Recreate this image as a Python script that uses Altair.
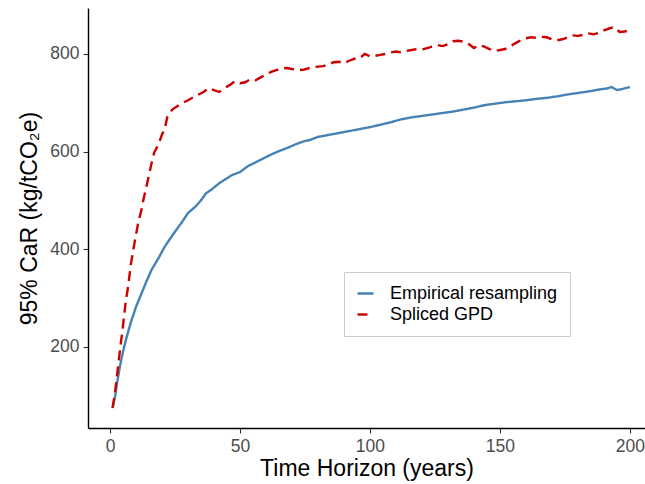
import altair as alt
import pandas as pd

emp_x = [1, 2, 3, 4, 5, 6, 8, 10, 12, 14, 16, 19, 21, 25, 28, 30, 33, 35, 37, 39, 42, 44, 47, 50, 53, 56, 59, 62,
         65, 68, 71, 74, 77, 80, 84, 88, 92, 96, 100, 104, 108, 112, 116, 120, 124, 128, 132, 136, 140, 144, 148,
         152, 156, 160, 164, 168, 172, 176, 180, 184, 188, 191, 193, 195, 197, 200]
emp_y = [75, 100, 135, 165, 190, 212, 250, 282, 308, 334, 358, 385, 405, 436, 458, 474, 488, 500, 515, 522, 535, 542,
         552, 558, 570, 578, 586, 594, 601, 607, 614, 620, 624, 630, 634, 638, 642, 646, 650, 655, 660, 666, 670, 673,
         676, 679, 682, 686, 690, 695, 698, 701, 703, 705, 708, 710, 713, 717, 720, 723, 727, 729, 732, 726, 728, 732]

gpd_x = [1, 2, 3, 4, 5, 6, 7, 8, 9, 10, 11, 12, 13, 14, 15, 16, 17, 18, 19, 20, 21, 22, 23, 24, 25, 27, 30, 33, 36,
         38, 40, 42, 44, 46, 48, 50, 52, 54, 56, 58, 60, 62, 64, 66, 68, 70, 72, 74, 76, 78, 80, 82, 84, 86, 88, 90,
         92, 94, 96, 98, 100, 102, 104, 106, 108, 110, 112, 114, 116, 118, 120, 122, 124, 126, 128, 130, 132, 134,
         136, 138, 140, 142, 144, 146, 148, 150, 152, 154, 156, 158, 160, 162, 164, 166, 168, 170, 172, 174, 176,
         178, 180, 182, 184, 186, 188, 190, 192, 194, 196, 198, 200]
gpd_y = [75, 110, 155, 200, 243, 290, 325, 368, 400, 430, 458, 478, 505, 528, 552, 576, 598, 608, 620, 635, 645, 670,
         680, 686, 690, 697, 705, 714, 722, 730, 726, 722, 730, 736, 744, 740, 742, 748, 746, 752, 758, 763, 767, 770,
         771, 769, 768, 767, 770, 773, 774, 775, 778, 783, 784, 781, 786, 790, 791, 800, 795, 796, 798, 800, 803, 805,
         803, 806, 808, 810, 809, 812, 815, 818, 816, 820, 826, 827, 825, 820, 812, 818, 815, 810, 806, 808, 810, 816,
         822, 828, 832, 834, 833, 835, 834, 830, 828, 830, 834, 838, 837, 839, 842, 840, 843, 848, 852, 855, 845, 846,
         848]

series_names = ["Empirical resampling", "Spliced GPD"]
series_colors = ["#4682B4", "#CD0000"]

df = pd.concat([
    pd.DataFrame({"t": emp_x, "v": emp_y, "s": series_names[0]}),
    pd.DataFrame({"t": gpd_x, "v": gpd_y, "s": series_names[1]}),
])

chart = alt.Chart(df).mark_line(strokeWidth=2.4, clip=True).encode(
    x=alt.X("t:Q", scale=alt.Scale(domain=[-8.46, 205.8], nice=False, zero=False),
            axis=alt.Axis(values=[0, 50, 100, 150, 200], title="Time Horizon (years)")),
    y=alt.Y("v:Q", scale=alt.Scale(domain=[34, 894], nice=False, zero=False),
            axis=alt.Axis(values=[200, 400, 600, 800], title="95% CaR (kg/tCO₂e)")),
    color=alt.Color("s:N", scale=alt.Scale(domain=series_names, range=series_colors),
                    legend=alt.Legend(title=None, orient="none", legendX=256, legendY=264,
                                      symbolType="stroke", symbolStrokeWidth=2.4, symbolSize=256,
                                      labelFontSize=18, labelFont="Liberation Sans", labelColor="#000000",
                                      labelOffset=15, strokeColor="#cccccc", fillColor="white", padding=12,
                                      rowPadding=2, labelLimit=300)),
    strokeDash=alt.StrokeDash("s:N", scale=alt.Scale(domain=series_names, range=[[1, 0], [10, 6]]), legend=None),
).properties(
    width=557, height=420,
    padding={"left": 88, "top": 8, "right": 0, "bottom": 56},
    autosize=alt.AutoSizeParams(type="none"),
).configure_view(stroke=None).configure_axis(
    grid=False, domainColor="#000000", domainWidth=1.4, tickColor="#333333", tickSize=5, tickWidth=1.1,
    labelColor="#4D4D4D", labelFontSize=17.5, labelFont="Liberation Sans", labelPadding=4,
    titleFont="Liberation Sans", titleFontSize=23, titleFontWeight="normal", titleColor="#000000",
).configure_axisX(titlePadding=3).configure_axisY(titlePadding=8)

chart.save("out.html", embed_options={"renderer": "svg", "actions": False})
